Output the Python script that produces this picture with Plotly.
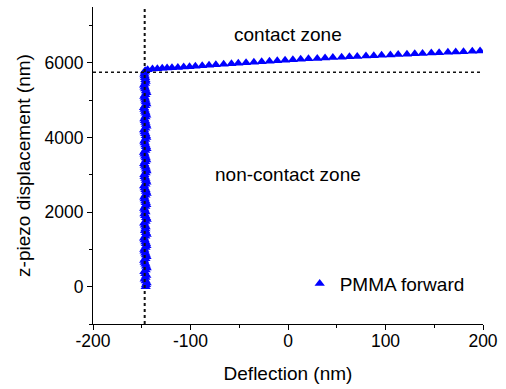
import plotly.graph_objects as go

# ---- data ----
# non-contact (vertical) part: z-piezo ramp at almost constant deflection
approach_z = [0, 50, 100, 150, 200, 250, 300, 350, 400, 450,
              500, 550, 600, 650, 700, 750, 800, 850, 900, 950,
              1000, 1050, 1100, 1150, 1200, 1250, 1300, 1350, 1400, 1450,
              1500, 1550, 1600, 1650, 1700, 1750, 1800, 1850, 1900, 1950,
              2000, 2050, 2100, 2150, 2200, 2250, 2300, 2350, 2400, 2450,
              2500, 2550, 2600, 2650, 2700, 2750, 2800, 2850, 2900, 2950,
              3000, 3050, 3100, 3150, 3200, 3250, 3300, 3350, 3400, 3450,
              3500, 3550, 3600, 3650, 3700, 3750, 3800, 3850, 3900, 3950,
              4000, 4050, 4100, 4150, 4200, 4250, 4300, 4350, 4400, 4450,
              4500, 4550, 4600, 4650, 4700, 4750, 4800, 4850, 4900, 4950,
              5000, 5050, 5100, 5150, 5200, 5250, 5300, 5350, 5400, 5450,
              5500, 5550, 5600, 5650, 5700, 5750, 5790]
approach_defl = [-146, -145.6, -145, -146, -147, -146.2, -145.3, -146.4, -147.3, -146,
                 -144.9, -145.6, -146.2, -147, -147.5, -146.3, -145.1, -145.8, -146.4, -147.1,
                 -147.4, -146.2, -145.2, -145.7, -146.3, -147, -147.6, -146.4, -145, -145.8,
                 -146.6, -146.3, -146, -146.8, -147.5, -146.2, -144.9, -145.6, -146.5, -147.2,
                 -146.2, -146.9, -147.5, -146.4, -145.3, -145.9, -146.4, -147, -147.4, -146.3,
                 -145, -145.7, -146.2, -147, -147.6, -146.3, -145.2, -145.8, -146.3, -147.1,
                 -147.3, -146.1, -145.1, -145.6, -146.1, -146.9, -147.5, -146.5, -145.4, -145.9,
                 -146.5, -147.1, -147.7, -146.4, -145.1, -145.7, -146.3, -146.9, -147.4, -146.4,
                 -145.3, -145.8, -146.4, -147.1, -147.6, -146.4, -145.2, -145.7, -146.2, -146.8,
                 -147.3, -146.3, -145.4, -146, -146.6, -147.2, -147.7, -146.5, -145.3, -145.9,
                 -146.3, -146.8, -147.4, -146.4, -145.2, -145.8, -146.5, -147.1, -147.6, -146.6,
                 -146, -146.3, -146.6, -147, -147.3, -146.8, -146.5]
# contact part
contact_defl = [-144, -139, -134, -129, -124, -119, -113, -107, -101, -95,
                -88, -81, -74, -66, -58, -51, -43, -35, -27, -19,
                -11, -3, 5, 13, 21, 30, 38, 46, 55, 63,
                71, 80, 88, 96, 105, 113, 122, 130, 138, 147,
                155, 164, 172, 180, 189, 197]
contact_z = [5820, 5835, 5845, 5855, 5862, 5870, 5880, 5890, 5900, 5912,
             5925, 5938, 5950, 5965, 5978, 5990, 6005, 6018, 6030, 6045,
             6058, 6072, 6085, 6098, 6110, 6122, 6133, 6145, 6155, 6165,
             6175, 6185, 6195, 6205, 6215, 6225, 6235, 6245, 6255, 6265,
             6275, 6285, 6293, 6302, 6312, 6322]

deflection = approach_defl + contact_defl
z_piezo = approach_z + contact_z

contact_line_x = -147
contact_line_z = 5750

x_ticks = [-200, -100, 0, 100, 200]
x_tick_labels = ["-200", "-100", "0", "100", "200"]
y_ticks = [0, 2000, 4000, 6000]
y_tick_labels = ["0", "2000", "4000", "6000"]

FONT = "Liberation Sans, Arial, sans-serif"

fig = go.Figure()
fig.add_trace(go.Scatter(
    x=deflection, y=z_piezo, mode="markers", name="PMMA forward",
    marker=dict(symbol="triangle-up", size=9, color="#0000ff",
                line=dict(width=0)),
))

dash = "3px,3px"
fig.add_shape(type="line", xref="x", yref="y", x0=contact_line_x, x1=contact_line_x,
              y0=-1000, y1=7500, line=dict(color="#111111", width=2, dash=dash), layer="above")
fig.add_shape(type="line", xref="x", yref="y", x0=-200, x1=200,
              y0=contact_line_z, y1=contact_line_z,
              line=dict(color="#111111", width=1.6, dash=dash), layer="above")

fig.add_annotation(x=0, y=6760, text="contact zone", showarrow=False,
                   font=dict(family=FONT, size=19, color="#000"))
fig.add_annotation(x=0, y=3010, text="non-contact zone", showarrow=False,
                   font=dict(family=FONT, size=19, color="#000"))

axis_common = dict(showline=True, linecolor="#000", linewidth=1.2,
                   ticks="outside", ticklen=5, tickwidth=1.2, tickcolor="#000",
                   showgrid=False, zeroline=False, mirror=False,
                   tickfont=dict(family=FONT, size=17.5, color="#000"))

fig.update_xaxes(range=[-200, 200], tickvals=x_ticks, ticktext=x_tick_labels,
                 ticklabelstandoff=-4,
                 minor=dict(dtick=50, ticks="outside", ticklen=3, tickwidth=1.2, tickcolor="#000"),
                 title=dict(text="Deflection (nm)", font=dict(family=FONT, size=19, color="#000"),
                            standoff=16),
                 **axis_common)
fig.update_yaxes(range=[-1000, 7500], tickvals=y_ticks, ticktext=y_tick_labels,
                 minor=dict(dtick=1000, ticks="outside", ticklen=3, tickwidth=1.2, tickcolor="#000"),
                 title=dict(text="z-piezo displacement (nm)", font=dict(family=FONT, size=19, color="#000"),
                            standoff=8),
                 **axis_common)

fig.update_layout(
    width=506, height=389,
    margin=dict(l=93, r=23, t=7, b=65, autoexpand=False),
    paper_bgcolor="white", plot_bgcolor="white",
    showlegend=True,
    legend=dict(x=0.53, y=0.127, xanchor="left", yanchor="middle",
                bgcolor="rgba(0,0,0,0)", font=dict(family=FONT, size=19, color="#000"),
                itemsizing="trace"),
    font=dict(family=FONT),
)

fig.write_html("out.html", config=dict(displayModeBar=False),
               post_script="document.body.style.margin='0';document.body.style.padding='0';")
